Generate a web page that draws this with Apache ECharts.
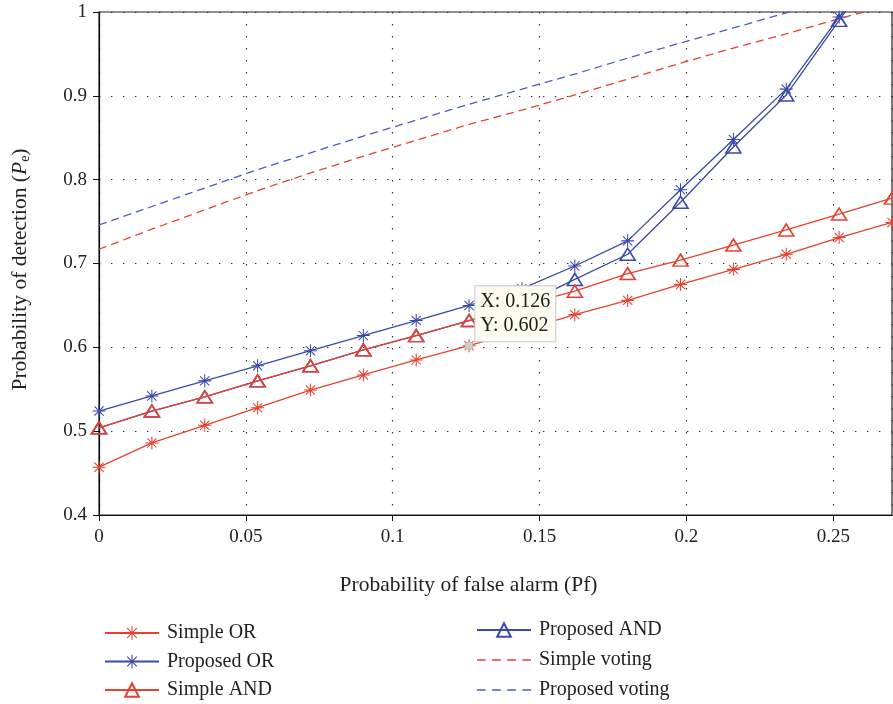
<!DOCTYPE html>
<html>
<head>
<meta charset="utf-8">
<script src="https://cdn.jsdelivr.net/npm/echarts@6/dist/echarts.min.js"></script>
<style>html,body{margin:0;padding:0;background:#fff;}#c{width:893px;height:704px;}</style>
</head>
<body>
<div id="c"></div>
<script>
var xValues = [0, 0.018, 0.036, 0.054, 0.072, 0.09, 0.108, 0.126, 0.144, 0.162, 0.18, 0.198, 0.216, 0.234, 0.252, 0.27];
var simpleOR = [0.457, 0.486, 0.507, 0.528, 0.549, 0.567, 0.585, 0.602, 0.620, 0.639, 0.656, 0.675, 0.693, 0.711, 0.731, 0.749];
var proposedOR = [0.524, 0.542, 0.560, 0.578, 0.596, 0.614, 0.632, 0.650, 0.670, 0.697, 0.727, 0.788, 0.848, 0.908, 0.994, 1.08];
var simpleAND = [0.504, 0.524, 0.541, 0.560, 0.578, 0.597, 0.614, 0.632, 0.650, 0.667, 0.688, 0.704, 0.722, 0.740, 0.759, 0.778];
var proposedAND = [0.504, 0.524, 0.541, 0.560, 0.578, 0.597, 0.614, 0.632, 0.650, 0.681, 0.711, 0.773, 0.839, 0.901, 0.990, 1.08];
var simpleVoting = [0.717, 0.741, 0.764, 0.787, 0.808, 0.828, 0.847, 0.866, 0.883, 0.901, 0.920, 0.939, 0.957, 0.974, 0.992, 1.009];
var proposedVoting = [0.746, 0.768, 0.790, 0.812, 0.832, 0.852, 0.871, 0.890, 0.908, 0.926, 0.945, 0.963, 0.981, 0.999, 1.017, 1.035];
var seriesNames = ['Simple OR', 'Proposed OR', 'Simple AND', 'Proposed AND', 'Simple voting', 'Proposed voting'];
var xTickLabels = ['0', '0.05', '0.1', '0.15', '0.2', '0.25'];
var yTickLabels = ['0.4', '0.5', '0.6', '0.7', '0.8', '0.9', '1'];
var markerPoint = [0.126, 0.602];

var RED = '#e8402f', BLUE = '#3a4aa8', BLUE2 = '#4a5fbc';
var FONT = '"Liberation Serif", "DejaVu Serif", serif';
var STAR = 'path://M0 9.2H20V10.8H0Z M9.2 0H10.8V20H9.2Z M3.50 2.36L17.64 16.50L16.50 17.64L2.36 3.50Z M17.64 3.50L3.50 17.64L2.36 16.50L16.50 2.36Z';
var DASH = 'path://M0 0H8V1.4H0Z M14 0H22V1.4H14Z M28 0H36V1.4H28Z M42 0H50V1.4H42Z';

function pairs(ys) { return xValues.map(function (x, i) { return [x, ys[i]]; }); }
function fmt(v, list) {
  var s = String(+v.toFixed(2));
  return list.indexOf(s) >= 0 ? s : '';
}

var chart = echarts.init(document.getElementById('c'), null, { renderer: 'canvas' });
var gridLine = { show: true, lineStyle: { color: '#333', width: 1.2, type: [1.4, 10.6] } };
var legendText = { fontFamily: FONT, fontSize: 20, lineHeight: 20, color: '#222', padding: [0, 0, 0, 3] };

var option = {
  animation: false,
  backgroundColor: '#fff',
  textStyle: { fontFamily: FONT },
  grid: { left: 99, right: 1, top: 12, bottom: 189, show: true, borderColor: '#222', borderWidth: 1.2 },
  legend: [
    { orient: 'vertical', left: 99, top: 618, height: 90, itemWidth: 54, itemHeight: 17, itemGap: 8.5,
      textStyle: legendText,
      data: seriesNames.slice(0, 3) },
    { orient: 'vertical', left: 471, top: 615, height: 90, itemWidth: 54, itemHeight: 17, itemGap: 10,
      textStyle: legendText,
      data: [seriesNames[3], { name: seriesNames[4], icon: DASH }, { name: seriesNames[5], icon: DASH }] }
  ],
  xAxis: {
    type: 'value', min: 0, max: 0.27, interval: 0.05,
    name: 'Probability of false alarm (Pf)', nameLocation: 'middle', nameGap: 59,
    nameTextStyle: { fontFamily: FONT, fontSize: 21.5, color: '#222', padding: [0, 54, 0, 0] },
    axisLine: { show: true, onZero: false, lineStyle: { color: '#111', width: 1.2 } },
    axisTick: { show: true, inside: false, length: 6, lineStyle: { color: '#111' } },
    axisLabel: { showMaxLabel: false, margin: 13, fontFamily: FONT, fontSize: 19, color: '#222',
      formatter: function (v) { return fmt(v, xTickLabels); } },
    splitLine: gridLine
  },
  yAxis: {
    type: 'value', min: 0.4, max: 1, interval: 0.1,
    name: '{n|Probability of detection (}{i|P}{s|e}{n|)}', nameLocation: 'middle', nameGap: 67,
    nameTextStyle: { fontFamily: FONT, fontSize: 21.5, color: '#222', padding: [0, 12, 0, 0],
      rich: {
        n: { fontFamily: FONT, fontSize: 21.5, color: '#222' },
        i: { fontFamily: FONT, fontSize: 21.5, color: '#222', fontStyle: 'italic' },
        s: { fontFamily: FONT, fontSize: 14, color: '#222', padding: [9, 0, 0, 0] }
      } },
    axisLine: { show: true, onZero: false, lineStyle: { color: '#111', width: 1.2 } },
    axisTick: { show: true, inside: false, length: 6, lineStyle: { color: '#111' } },
    axisLabel: { margin: 12, fontFamily: FONT, fontSize: 19, color: '#222',
      formatter: function (v) { return fmt(v, yTickLabels); } },
    splitLine: gridLine
  },
  series: [
    { name: seriesNames[0], type: 'line', data: pairs(simpleOR), symbol: STAR, symbolSize: 13,
      color: RED, lineStyle: { color: RED, width: 1.3 }, itemStyle: { color: RED, borderWidth: 0 }, z: 2,
      markPoint: {
        symbol: 'circle', symbolSize: 8,
        itemStyle: { color: '#cfcfcf', borderColor: '#aaa', borderWidth: 0.5 },
        label: { show: true, position: 'right', distance: 2, offset: [0, -32],
          formatter: 'X: ' + markerPoint[0] + '\nY: ' + markerPoint[1],
          fontFamily: FONT, fontSize: 20, color: '#222', lineHeight: 24,
          backgroundColor: '#fbfbf1', borderColor: '#c8c8c8', borderWidth: 1, padding: [4, 5, 3, 5] },
        data: [{ coord: markerPoint }]
      } },
    { name: seriesNames[1], type: 'line', data: pairs(proposedOR), symbol: STAR, symbolSize: 13,
      color: BLUE, lineStyle: { color: BLUE, width: 1.3 }, itemStyle: { color: BLUE, borderWidth: 0 }, z: 2 },
    { name: seriesNames[2], type: 'line', data: pairs(simpleAND), symbol: 'triangle', symbolSize: [15, 12],
      color: RED, lineStyle: { color: RED, width: 1.3 }, itemStyle: { color: 'rgba(0,0,0,0)', borderColor: RED, borderWidth: 1.6 }, z: 3 },
    { name: seriesNames[3], type: 'line', data: pairs(proposedAND), symbol: 'triangle', symbolSize: [15, 12],
      color: BLUE, lineStyle: { color: BLUE, width: 1.3 }, itemStyle: { color: 'rgba(0,0,0,0)', borderColor: BLUE, borderWidth: 1.6 }, z: 2 },
    { name: seriesNames[4], type: 'line', data: pairs(simpleVoting), showSymbol: false, symbol: 'none',
      color: RED, lineStyle: { color: RED, width: 1.3, type: [8, 5] }, z: 2 },
    { name: seriesNames[5], type: 'line', data: pairs(proposedVoting), showSymbol: false, symbol: 'none',
      color: BLUE2, lineStyle: { color: BLUE2, width: 1.3, type: [8, 5] }, z: 2 }
  ]
};
chart.setOption(option);
</script>
</body>
</html>
